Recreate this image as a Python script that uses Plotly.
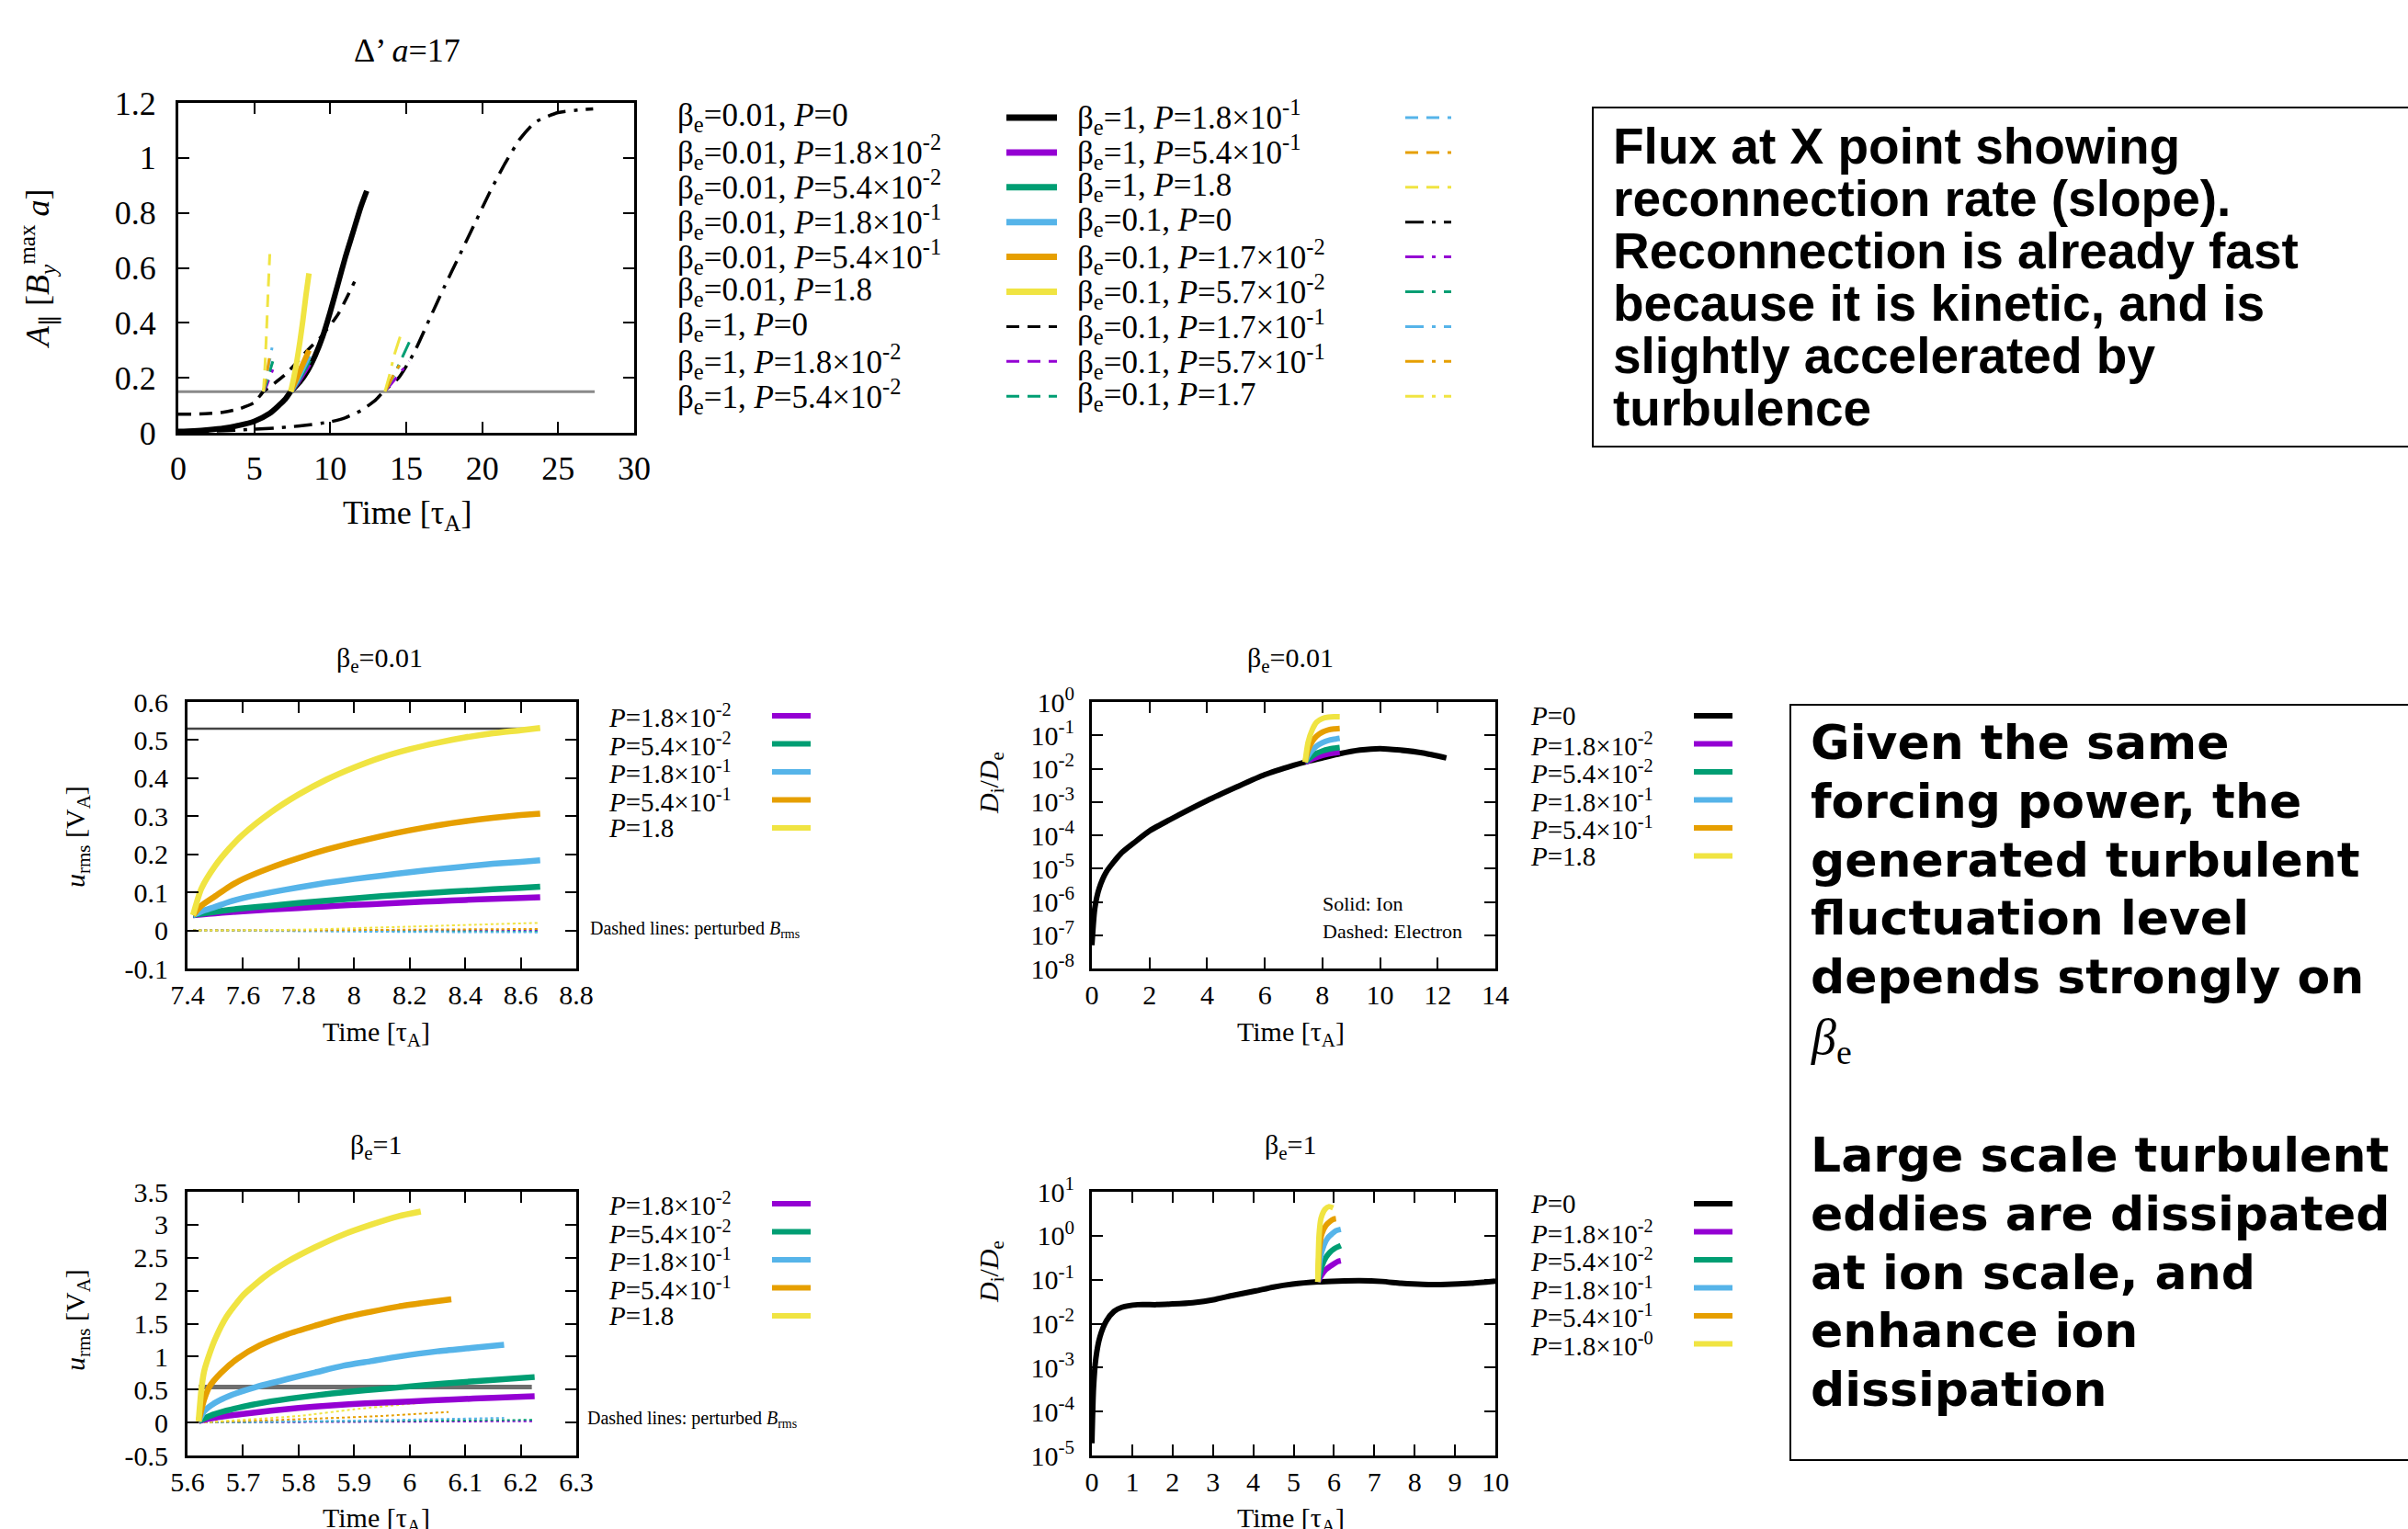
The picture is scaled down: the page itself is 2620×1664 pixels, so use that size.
import plotly.graph_objects as go

W, H = 2620, 1664

PURPLE, GREEN, BLUE, ORANGE, YELLOW, BLACK = '#9400D3', '#009E73', '#56B4E9', '#E69F00', '#F0E442', '#000000'
P_COLORS = [PURPLE, GREEN, BLUE, ORANGE, YELLOW]
SERIF = 'Liberation Serif, Times New Roman, serif'

# ================= DATA =================
# --- Panel A: flux at X point, Delta' a = 17 ---
a_t_b001 = [0, 1, 2, 3, 4, 5, 6, 7, 7.4, 8, 8.5, 9, 9.5, 10, 10.5, 11, 11.5, 12, 12.4]
a_v_b001 = [0.005, 0.007, 0.011, 0.017, 0.027, 0.042, 0.07, 0.12, 0.15, 0.185, 0.225, 0.28, 0.35, 0.44, 0.54, 0.64, 0.73, 0.82, 0.88]
a_t_b1 = [0, 1, 2, 3, 4, 5, 5.6, 6.2, 7, 7.7, 8.5, 9.4, 10.5, 11.6]
a_v_b1 = [0.068, 0.068, 0.07, 0.075, 0.087, 0.11, 0.15, 0.175, 0.21, 0.25, 0.3, 0.35, 0.43, 0.55]
a_t_b01 = [0, 2, 4, 6, 8, 10, 11, 12, 13, 13.5, 14.5, 15.5, 16.5, 17.5, 18.5, 19.5, 20.5, 21.5, 22.5, 23.5, 25, 26.5, 27.3]
a_v_b01 = [0.003, 0.006, 0.01, 0.016, 0.025, 0.04, 0.055, 0.08, 0.12, 0.15, 0.2, 0.29, 0.41, 0.53, 0.645, 0.76, 0.875, 0.98, 1.07, 1.13, 1.165, 1.175, 1.178]
a_thr_t = [0, 27.4]
a_thr_v = [0.15, 0.15]
# forced runs (order: P1..P5 -> purple, green, blue, orange, yellow)
a_f001_t = [[7.4, 7.8, 8.2, 8.6], [7.4, 7.8, 8.2, 8.6], [7.4, 7.8, 8.2, 8.6], [7.4, 7.8, 8.2, 8.6],
            [7.4, 7.6, 7.8, 8.0, 8.2, 8.4, 8.6]]
a_f001_v = [[0.15, 0.18, 0.215, 0.25], [0.15, 0.185, 0.225, 0.265], [0.15, 0.19, 0.235, 0.28],
            [0.15, 0.2, 0.25, 0.30], [0.15, 0.2, 0.26, 0.33, 0.41, 0.5, 0.58]]
a_f1_t = [[5.6, 5.8, 6.0, 6.22], [5.6, 5.8, 6.0, 6.22], [5.6, 5.8, 6.0, 6.17], [5.6, 5.75, 5.9, 6.07],
          [5.6, 5.7, 5.8, 5.9, 6.02]]
a_f1_v = [[0.15, 0.17, 0.2, 0.23], [0.15, 0.18, 0.22, 0.26], [0.15, 0.2, 0.26, 0.31], [0.15, 0.19, 0.24, 0.30],
          [0.15, 0.24, 0.36, 0.5, 0.65]]
a_f01_t = [[13.6, 14.2, 14.7, 15.2], [13.6, 14.2, 14.7, 15.2], [13.6, 14.0, 14.4, 14.8], [13.6, 13.9, 14.2, 14.6],
           [13.6, 13.9, 14.2, 14.6]]
a_f01_v = [[0.15, 0.19, 0.225, 0.26], [0.15, 0.21, 0.27, 0.33], [0.15, 0.19, 0.23, 0.27], [0.15, 0.18, 0.215, 0.25],
           [0.15, 0.21, 0.28, 0.35]]

# --- Panel B: u_rms, beta_e = 0.01 ---
u001_t = [7.42, 7.45, 7.5, 7.55, 7.6, 7.7, 7.8, 7.9, 8.0, 8.1, 8.2, 8.3, 8.4, 8.5, 8.6, 8.67]
u001_v = [[0.04, 0.042, 0.045, 0.048, 0.05, 0.055, 0.059, 0.063, 0.067, 0.07, 0.074, 0.077, 0.08, 0.083, 0.085, 0.087],
          [0.04, 0.044, 0.049, 0.054, 0.058, 0.065, 0.072, 0.078, 0.084, 0.09, 0.095, 0.1, 0.104, 0.108, 0.112, 0.115],
          [0.04, 0.05, 0.062, 0.075, 0.085, 0.1, 0.113, 0.125, 0.135, 0.144, 0.153, 0.161, 0.168, 0.175, 0.18, 0.184],
          [0.04, 0.065, 0.09, 0.115, 0.135, 0.165, 0.19, 0.212, 0.231, 0.248, 0.263, 0.276, 0.287, 0.296, 0.303, 0.307],
          [0.04, 0.11, 0.17, 0.215, 0.252, 0.31, 0.357, 0.396, 0.428, 0.455, 0.476, 0.493, 0.507, 0.518, 0.526, 0.532]]
u001_thr_t = [7.4, 8.62]
u001_thr_v = [0.53, 0.53]
b001_t = [7.42, 7.8, 8.2, 8.67]
b001_v = [[0, 0, 0, 0], [0, 0, -0.002, -0.003], [0, -0.002, -0.004, -0.005], [0, 0, 0.002, 0.004],
          [0, 0.002, 0.01, 0.02]]

# --- Panel C: D_i/D_e, beta_e = 0.01 ---
d001_t0 = [0, 0.1, 0.25, 0.5, 1, 1.5, 2, 3, 4, 5, 6, 7, 7.4, 8, 8.6, 9.3, 10, 10.7, 11.5, 12.3]
d001_v0 = [5.0e-8, 6.3e-7, 2.5e-6, 7.9e-6, 2.8e-5, 6.3e-5, 1.35e-4, 4.0e-4, 1.1e-3, 2.75e-3, 6.6e-3,
           1.26e-2, 1.58e-2, 2.1e-2, 2.8e-2, 3.6e-2, 4.0e-2, 3.6e-2, 2.95e-2, 2.1e-2]
d001_t = [7.4, 7.5, 7.65, 7.8, 8.0, 8.2, 8.4, 8.6]
d001_v = [[1.58e-2, 1.7e-2, 1.95e-2, 2.2e-2, 2.5e-2, 2.75e-2, 2.95e-2, 3.1e-2],
          [1.58e-2, 1.9e-2, 2.4e-2, 2.9e-2, 3.4e-2, 3.8e-2, 4.1e-2, 4.3e-2],
          [1.58e-2, 2.4e-2, 3.6e-2, 4.8e-2, 6.0e-2, 7.0e-2, 7.6e-2, 8.1e-2],
          [1.58e-2, 3.5e-2, 6.5e-2, 9.5e-2, 1.25e-1, 1.45e-1, 1.55e-1, 1.6e-1],
          [1.58e-2, 6.0e-2, 1.5e-1, 2.5e-1, 3.2e-1, 3.5e-1, 3.6e-1, 3.6e-1]]

# --- Panel D: u_rms, beta_e = 1 ---
u1_t = [[5.62, 5.64, 5.67, 5.7, 5.75, 5.8, 5.86, 5.92, 6.0, 6.08, 6.15, 6.225],
        [5.62, 5.64, 5.67, 5.7, 5.75, 5.8, 5.86, 5.92, 5.99, 6.06, 6.14, 6.225],
        [5.62, 5.63, 5.65, 5.68, 5.72, 5.78, 5.83, 5.88, 5.93, 5.98, 6.05, 6.11, 6.17],
        [5.62, 5.63, 5.64, 5.66, 5.69, 5.73, 5.78, 5.83, 5.88, 5.93, 5.98, 6.03, 6.075],
        [5.62, 5.625, 5.63, 5.64, 5.65, 5.67, 5.7, 5.74, 5.78, 5.83, 5.88, 5.93, 5.98, 6.02]]
u1_v = [[0.02, 0.06, 0.1, 0.13, 0.18, 0.22, 0.26, 0.29, 0.32, 0.35, 0.375, 0.4],
        [0.02, 0.1, 0.18, 0.24, 0.32, 0.38, 0.44, 0.49, 0.54, 0.59, 0.64, 0.69],
        [0.02, 0.17, 0.3, 0.42, 0.53, 0.66, 0.76, 0.86, 0.93, 1.0, 1.08, 1.13, 1.18],
        [0.02, 0.35, 0.55, 0.75, 0.97, 1.17, 1.34, 1.47, 1.59, 1.68, 1.76, 1.82, 1.87],
        [0.02, 0.5, 0.78, 1.05, 1.27, 1.6, 1.93, 2.22, 2.44, 2.66, 2.85, 3.0, 3.13, 3.2]]
u1_thr_t = [5.62, 6.22]
u1_thr_v = [0.54, 0.54]
b1_t = [[5.62, 5.9, 6.225], [5.62, 5.9, 6.225], [5.62, 5.9, 6.17], [5.62, 5.8, 5.95, 6.07], [5.62, 5.8, 5.9, 6.02]]
b1_v = [[0, 0.01, 0.02], [0, 0.02, 0.04], [0, 0.03, 0.07], [0, 0.05, 0.1, 0.16], [0, 0.1, 0.2, 0.3]]

# --- Panel E: D_i/D_e, beta_e = 1 ---
d1_t0 = [0, 0.04, 0.1, 0.2, 0.36, 0.55, 0.74, 1.13, 1.6, 2.0, 2.5, 3.05, 3.5, 4.07, 4.5, 4.97, 5.6, 6.1, 6.64,
         7.2, 7.66, 8.2, 8.8, 9.4, 10]
d1_v0 = [1.9e-5, 3.4e-4, 1.66e-3, 5.0e-3, 1.15e-2, 1.9e-2, 2.35e-2, 2.7e-2, 2.7e-2, 2.8e-2, 3.0e-2, 3.55e-2,
         4.4e-2, 5.6e-2, 6.8e-2, 7.9e-2, 8.9e-2, 9.3e-2, 9.5e-2, 9.1e-2, 8.3e-2, 7.8e-2, 7.8e-2, 8.3e-2, 9.3e-2]
d1_t = [[5.6, 5.7, 5.8, 5.9, 6.0, 6.1, 6.17],
        [5.6, 5.7, 5.8, 5.9, 6.0, 6.1, 6.17],
        [5.6, 5.66, 5.75, 5.85, 5.95, 6.05, 6.17],
        [5.6, 5.64, 5.7, 5.8, 5.9, 6.0, 6.05],
        [5.6, 5.63, 5.68, 5.78, 5.88, 5.98]]
d1_v = [[8.9e-2, 0.13, 0.17, 0.2, 0.23, 0.26, 0.27],
        [8.9e-2, 0.2, 0.32, 0.42, 0.5, 0.56, 0.6],
        [8.9e-2, 0.3, 0.6, 0.9, 1.1, 1.3, 1.4],
        [8.9e-2, 0.5, 1.1, 1.7, 2.1, 2.4, 2.45],
        [8.9e-2, 1.0, 2.5, 4.0, 4.6, 4.3]]

# --- tick labels ---
a_xticks = [0, 5, 10, 15, 20, 25, 30]
a_yticks = [0, 0.2, 0.4, 0.6, 0.8, 1, 1.2]
u001_xticks = [7.4, 7.6, 7.8, 8, 8.2, 8.4, 8.6, 8.8]
u001_yticks = [-0.1, 0, 0.1, 0.2, 0.3, 0.4, 0.5, 0.6]
u001_ytext = ['-0.1', '0', '0.1', '0.2', '0.3', '0.4', '0.5', '0.6']
u1_xticks = [5.6, 5.7, 5.8, 5.9, 6, 6.1, 6.2, 6.3]
u1_yticks = [-0.5, 0, 0.5, 1, 1.5, 2, 2.5, 3, 3.5]
u1_ytext = ['-0.5', '0', '0.5', '1', '1.5', '2', '2.5', '3', '3.5']
d001_xticks = [0, 2, 4, 6, 8, 10, 12, 14]
d001_yticks = [1e-8, 1e-7, 1e-6, 1e-5, 1e-4, 1e-3, 1e-2, 1e-1, 1]
d001_ytext = ['10<sup>-8</sup>', '10<sup>-7</sup>', '10<sup>-6</sup>', '10<sup>-5</sup>', '10<sup>-4</sup>',
              '10<sup>-3</sup>', '10<sup>-2</sup>', '10<sup>-1</sup>', '10<sup>0</sup>']
d1_xticks = [0, 1, 2, 3, 4, 5, 6, 7, 8, 9, 10]
d1_yticks = [1e-5, 1e-4, 1e-3, 1e-2, 1e-1, 1, 10]
d1_ytext = ['10<sup>-5</sup>', '10<sup>-4</sup>', '10<sup>-3</sup>', '10<sup>-2</sup>', '10<sup>-1</sup>',
            '10<sup>0</sup>', '10<sup>1</sup>']

# legend labels
top_legend_col1 = ['β<sub>e</sub>=0.01, <i>P</i>=0', 'β<sub>e</sub>=0.01, <i>P</i>=1.8×10<sup>-2</sup>',
                   'β<sub>e</sub>=0.01, <i>P</i>=5.4×10<sup>-2</sup>', 'β<sub>e</sub>=0.01, <i>P</i>=1.8×10<sup>-1</sup>',
                   'β<sub>e</sub>=0.01, <i>P</i>=5.4×10<sup>-1</sup>', 'β<sub>e</sub>=0.01, <i>P</i>=1.8',
                   'β<sub>e</sub>=1, <i>P</i>=0', 'β<sub>e</sub>=1, <i>P</i>=1.8×10<sup>-2</sup>',
                   'β<sub>e</sub>=1, <i>P</i>=5.4×10<sup>-2</sup>']
top_legend_col2 = ['β<sub>e</sub>=1, <i>P</i>=1.8×10<sup>-1</sup>', 'β<sub>e</sub>=1, <i>P</i>=5.4×10<sup>-1</sup>',
                   'β<sub>e</sub>=1, <i>P</i>=1.8', 'β<sub>e</sub>=0.1, <i>P</i>=0',
                   'β<sub>e</sub>=0.1, <i>P</i>=1.7×10<sup>-2</sup>', 'β<sub>e</sub>=0.1, <i>P</i>=5.7×10<sup>-2</sup>',
                   'β<sub>e</sub>=0.1, <i>P</i>=1.7×10<sup>-1</sup>', 'β<sub>e</sub>=0.1, <i>P</i>=5.7×10<sup>-1</sup>',
                   'β<sub>e</sub>=0.1, <i>P</i>=1.7']
u_legend = ['<i>P</i>=1.8×10<sup>-2</sup>', '<i>P</i>=5.4×10<sup>-2</sup>', '<i>P</i>=1.8×10<sup>-1</sup>',
            '<i>P</i>=5.4×10<sup>-1</sup>', '<i>P</i>=1.8']
d001_legend = ['<i>P</i>=0'] + u_legend
d1_legend = ['<i>P</i>=0', '<i>P</i>=1.8×10<sup>-2</sup>', '<i>P</i>=5.4×10<sup>-2</sup>', '<i>P</i>=1.8×10<sup>-1</sup>',
             '<i>P</i>=5.4×10<sup>-1</sup>', '<i>P</i>=1.8×10<sup>-0</sup>']

box1_lines = ['Flux at X point showing', 'reconnection rate (slope).', 'Reconnection is already fast',
              'because it is kinetic, and is', 'slightly accelerated by', 'turbulence']
box2_lines = ['Given the same', 'forcing power, the', 'generated turbulent', 'fluctuation level',
              'depends strongly on']
box2_lines_b = ['Large scale turbulent', 'eddies are dissipated', 'at ion scale, and', 'enhance ion', 'dissipation']


# ================= HELPERS =================
def X(px):
    return px / W


def Y(py):
    return 1 - py / H


DASH = '14px,9px'
DASHDOT = '20px,9px,4px,9px'

fig = go.Figure()


def add_line(x, y, color, width, dash, xa, ya, shape='spline'):
    fig.add_trace(go.Scatter(x=x, y=y, mode='lines',
                             line=dict(color=color, width=width, dash=dash, shape=shape, smoothing=0.6),
                             xaxis=xa, yaxis=ya, showlegend=False, hoverinfo='skip'))


# Panel A
add_line(a_thr_t, a_thr_v, '#8a8a8a', 3, 'solid', 'x', 'y', 'linear')
add_line(a_t_b01, a_v_b01, BLACK, 3.5, DASHDOT, 'x', 'y')
add_line(a_t_b1, a_v_b1, BLACK, 3.5, DASH, 'x', 'y')
add_line(a_t_b001, a_v_b001, BLACK, 6, 'solid', 'x', 'y')
for i, c in enumerate(P_COLORS):
    add_line(a_f01_t[i], a_f01_v[i], c, 3, DASHDOT, 'x', 'y')
for i, c in enumerate(P_COLORS):
    add_line(a_f1_t[i], a_f1_v[i], c, 3, DASH, 'x', 'y')
for i, c in enumerate(P_COLORS):
    add_line(a_f001_t[i], a_f001_v[i], c, 6, 'solid', 'x', 'y')

# Panel B
add_line(u001_thr_t, u001_thr_v, '#444444', 2.5, 'solid', 'x2', 'y2', 'linear')
for i, c in enumerate(P_COLORS):
    add_line(b001_t, b001_v[i], c, 2, 'dot', 'x2', 'y2')
for i, c in enumerate(P_COLORS):
    add_line(u001_t, u001_v[i], c, 6.5, 'solid', 'x2', 'y2')

# Panel C
add_line(d001_t0, d001_v0, BLACK, 6, 'solid', 'x3', 'y3')
for i, c in enumerate(P_COLORS):
    add_line(d001_t, d001_v[i], c, 6, 'solid', 'x3', 'y3')

# Panel D
add_line(u1_thr_t, u1_thr_v, '#6e6e6e', 5, 'solid', 'x4', 'y4', 'linear')
for i, c in enumerate(P_COLORS):
    add_line(b1_t[i], b1_v[i], c, 2, 'dot', 'x4', 'y4')
for i, c in enumerate(P_COLORS):
    add_line(u1_t[i], u1_v[i], c, 6.5, 'solid', 'x4', 'y4')

# Panel E
add_line(d1_t0, d1_v0, BLACK, 6, 'solid', 'x5', 'y5')
for i, c in enumerate(P_COLORS):
    add_line(d1_t[i], d1_v[i], c, 6, 'solid', 'x5', 'y5')


def axis(domain, rng, tickvals, ticktext, size, anchor, standoff, typ='linear'):
    d = dict(domain=domain, range=rng, type=typ, anchor=anchor, showline=True, mirror='allticks',
             linecolor='black', linewidth=3, ticks='inside', ticklen=12, tickwidth=2, tickcolor='black',
             showgrid=False, zeroline=False, tickmode='array', tickvals=tickvals, automargin=False,
             tickfont=dict(family=SERIF, size=size, color='black'), ticklabelstandoff=standoff)
    if ticktext is not None:
        d['ticktext'] = ticktext
    return d


dom_a_x = [X(194), X(690)]
dom_a_y = [Y(471), Y(112)]
dom_l_x = [X(204), X(627)]
dom_r_x = [X(1188), X(1627)]
dom_m_y = [Y(1054), Y(764)]
dom_b_y = [Y(1584), Y(1297)]

fig.update_layout(
    width=W, height=H, margin=dict(l=0, r=0, t=0, b=0, autoexpand=False),
    paper_bgcolor='white', plot_bgcolor='white', showlegend=False,
    xaxis=axis(dom_a_x, [0, 30], a_xticks, None, 36, 'y', 5),
    yaxis=axis(dom_a_y, [0, 1.2], a_yticks, None, 36, 'x', 14),
    xaxis2=axis(dom_l_x, [7.4, 8.8], u001_xticks, None, 30, 'y2', 0),
    yaxis2=axis(dom_m_y, [-0.1, 0.6], u001_yticks, u001_ytext, 30, 'x2', 12),
    xaxis3=axis(dom_r_x, [0, 14], d001_xticks, None, 30, 'y3', 0),
    yaxis3=axis(dom_m_y, [-8, 0], d001_yticks, d001_ytext, 30, 'x3', 10, 'log'),
    xaxis4=axis(dom_l_x, [5.6, 6.3], u1_xticks, None, 30, 'y4', 0),
    yaxis4=axis(dom_b_y, [-0.5, 3.5], u1_yticks, u1_ytext, 30, 'x4', 12),
    xaxis5=axis(dom_r_x, [0, 10], d1_xticks, None, 30, 'y5', 0),
    yaxis5=axis(dom_b_y, [-5, 1], d1_yticks, d1_ytext, 30, 'x5', 10, 'log'),
)

ann = []
shapes = []


def text(px, py, s, size, xanchor='center', family=SERIF, angle=0, yanchor='middle'):
    ann.append(dict(x=X(px), y=Y(py), xref='paper', yref='paper', text=s, showarrow=False,
                    xanchor=xanchor, yanchor=yanchor, textangle=angle,
                    font=dict(family=family, size=size, color='black')))


def sample(x0, x1, py, color, width, dash):
    shapes.append(dict(type='line', xref='paper', yref='paper', x0=X(x0), x1=X(x1), y0=Y(py), y1=Y(py),
                       line=dict(color=color, width=width, dash=dash)))


# Titles and axis titles
text(443, 55, 'Δ’ <i>a</i>=17', 36)
text(443, 560, 'Time [τ<sub>A</sub>]', 36)
text(42, 292, '<i>A</i><sub>∥</sub> [<i>B</i><sub><i>y</i></sub><sup>max</sup> <i>a</i>]', 36, angle=-90)

text(413, 718, 'β<sub>e</sub>=0.01', 30)
text(1404, 718, 'β<sub>e</sub>=0.01', 30)
text(409, 1248, 'β<sub>e</sub>=1', 30)
text(1404, 1248, 'β<sub>e</sub>=1', 30)
text(409, 1125, 'Time [τ<sub>A</sub>]', 30)
text(1404, 1125, 'Time [τ<sub>A</sub>]', 30)
text(409, 1654, 'Time [τ<sub>A</sub>]', 30)
text(1404, 1654, 'Time [τ<sub>A</sub>]', 30)
text(84, 911, '<i>u</i><sub>rms</sub> [V<sub>A</sub>]', 30, angle=-90)
text(84, 1437, '<i>u</i><sub>rms</sub> [V<sub>A</sub>]', 30, angle=-90)
text(1078, 852, '<i>D</i><sub>i</sub>/<i>D</i><sub>e</sub>', 30, angle=-90)
text(1078, 1384, '<i>D</i><sub>i</sub>/<i>D</i><sub>e</sub>', 30, angle=-90)

text(640, 1011, 'Dashed lines: perturbed <i>B</i><sub>rms</sub>', 20, xanchor='left')
text(637, 1544, 'Dashed lines: perturbed <i>B</i><sub>rms</sub>', 20, xanchor='left')
text(1437, 983, 'Solid: Ion', 22, xanchor='left')
text(1437, 1013, 'Dashed: Electron', 22, xanchor='left')

# top legend
col1_styles = [(BLACK, 7, 'solid')] + [(c, 7, 'solid') for c in P_COLORS] + [(BLACK, 3, DASH), (PURPLE, 3, DASH), (GREEN, 3, DASH)]
col2_styles = [(BLUE, 3, DASH), (ORANGE, 3, DASH), (YELLOW, 3, DASH), (BLACK, 3, DASHDOT)] + [(c, 3, DASHDOT) for c in P_COLORS]
for i, (lab, st) in enumerate(zip(top_legend_col1, col1_styles)):
    py = 128 + 37.9 * i
    text(735, py, lab, 35, xanchor='left')
    sample(1095, 1150, py, *st)
for i, (lab, st) in enumerate(zip(top_legend_col2, col2_styles)):
    py = 128 + 37.9 * i
    text(1170, py, lab, 35, xanchor='left')
    sample(1529, 1579, py, *st)

# small panel legends
for i, lab in enumerate(u_legend):
    for base in (779, 1310):
        py = base + 30.5 * i
        text(660, py, lab, 29, xanchor='left')
        sample(840, 882, py, P_COLORS[i], 6, 'solid')
for base, labels in ((779, d001_legend), (1310, d1_legend)):
    for i, lab in enumerate(labels):
        py = base + 30.5 * i
        text(1663, py, lab, 29, xanchor='left')
        sample(1843, 1885, py, ([BLACK] + P_COLORS)[i], 6, 'solid')

# text boxes
shapes.append(dict(type='rect', xref='paper', yref='paper', x0=X(1733), x1=X(2640), y0=Y(486), y1=Y(117),
                   line=dict(color='black', width=2)))
shapes.append(dict(type='rect', xref='paper', yref='paper', x0=X(1948), x1=X(2640), y0=Y(1589), y1=Y(767),
                   line=dict(color='black', width=2)))
BOX1_FONT = 'Liberation Sans Narrow, Arial Narrow, Liberation Sans, Arial, sans-serif'
for i, s in enumerate(box1_lines):
    text(1753, 159 + 57 * i, '<b>' + s + '</b>', 55, xanchor='left', family=BOX1_FONT)
BOX2_FONT = 'DejaVu Sans, Arial Black, sans-serif'
for i, s in enumerate(box2_lines):
    text(1968, 808 + 63.8 * i, '<b>' + s + '</b>', 52, xanchor='left', family=BOX2_FONT)
text(1968, 1132, '<i>β</i><sub>e</sub>', 54, xanchor='left', family=SERIF)
for i, s in enumerate(box2_lines_b):
    text(1968, 1257 + 63.8 * i, '<b>' + s + '</b>', 52, xanchor='left', family=BOX2_FONT)

fig.update_layout(annotations=ann, shapes=shapes)
fig.write_html('out.html', config={'displayModeBar': False},
               post_script="document.body.style.margin='0px';document.body.style.overflow='hidden';")
